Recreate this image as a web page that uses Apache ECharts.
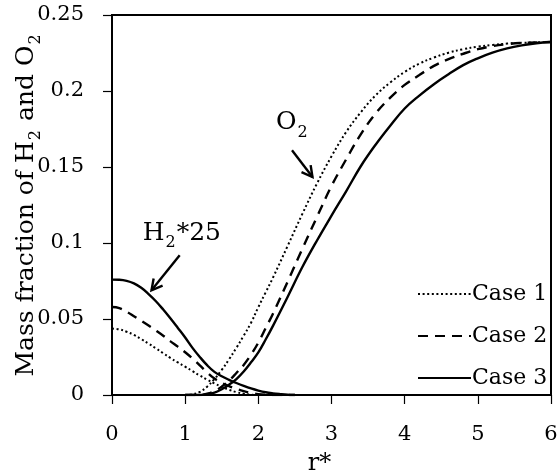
<!DOCTYPE html>
<html>
<head>
<meta charset="utf-8">
<script src="https://cdn.jsdelivr.net/npm/echarts@6/dist/echarts.min.js"></script>
<style>
html,body{margin:0;padding:0;background:#fff;}
#c{width:557px;height:475px;}
</style>
</head>
<body>
<div id="c"></div>
<script>
// ---- data ----
var caseNames = ['Case 1', 'Case 2', 'Case 3'];
var xTicks = [0, 1, 2, 3, 4, 5, 6];
var yTicks = [0, 0.05, 0.1, 0.15, 0.2, 0.25];

// H2*25 profiles
var rH2 = [0, 0.1, 0.2, 0.3, 0.4, 0.5, 0.6, 0.7, 0.8, 0.9, 1.0, 1.1, 1.2, 1.3, 1.4, 1.5, 1.6, 1.7, 1.8, 1.9, 2.0, 2.1, 2.2, 2.3, 2.4, 2.5];
var h2Case1 = [0.0437, 0.0432, 0.0416, 0.0395, 0.0368, 0.0338, 0.0307, 0.0275, 0.0243, 0.0214, 0.0186, 0.0157, 0.0128, 0.0101, 0.0076, 0.0054, 0.0034, 0.0019, 0.0008, 0.0002, 0, 0, 0, 0, 0, 0];
var h2Case2 = [0.0579, 0.0572, 0.0548, 0.0518, 0.0488, 0.0457, 0.0424, 0.0390, 0.0353, 0.0318, 0.0281, 0.0240, 0.0195, 0.0148, 0.0108, 0.0080, 0.0058, 0.0040, 0.0025, 0.0013, 0.0005, 0.0001, 0, 0, 0, 0];
var h2Case3 = [0.0759, 0.0758, 0.0751, 0.0734, 0.0705, 0.0664, 0.0617, 0.0562, 0.0503, 0.0441, 0.0378, 0.0310, 0.0250, 0.0196, 0.0152, 0.0123, 0.0100, 0.0079, 0.0060, 0.0043, 0.0029, 0.0018, 0.0011, 0.0006, 0.0002, 0];

// O2 profiles
var rO2 = [1.0, 1.1, 1.2, 1.3, 1.4, 1.5, 1.6, 1.7, 1.8, 1.9, 2.0, 2.1, 2.2, 2.4, 2.6, 2.8, 3.0, 3.2, 3.4, 3.6, 3.8, 4.0, 4.2, 4.4, 4.6, 4.8, 5.0, 5.2, 5.4, 5.6, 5.8, 6.0];
var o2Case1 = [0, 0.0005, 0.0020, 0.0055, 0.0105, 0.0165, 0.0235, 0.0310, 0.0390, 0.0475, 0.0578, 0.0675, 0.0772, 0.0980, 0.1190, 0.1390, 0.1570, 0.1730, 0.1860, 0.1970, 0.2055, 0.2125, 0.2180, 0.2220, 0.2252, 0.2275, 0.2292, 0.2303, 0.2312, 0.2317, 0.2320, 0.2322];
var o2Case2 = [0, 0, 0, 0.0008, 0.0025, 0.0055, 0.0095, 0.0145, 0.0198, 0.0265, 0.0345, 0.0440, 0.0535, 0.0745, 0.0960, 0.1170, 0.1375, 0.1550, 0.1715, 0.1850, 0.1955, 0.2040, 0.2105, 0.2165, 0.2210, 0.2245, 0.2275, 0.2295, 0.2308, 0.2316, 0.2320, 0.2322];
var o2Case3 = [0, 0, 0, 0.0005, 0.0015, 0.0038, 0.0068, 0.0105, 0.0155, 0.0215, 0.0280, 0.0365, 0.0455, 0.0645, 0.0840, 0.1015, 0.1180, 0.1340, 0.1505, 0.1645, 0.1770, 0.1885, 0.1970, 0.2045, 0.2110, 0.2170, 0.2215, 0.2252, 0.2280, 0.2300, 0.2314, 0.2322];

// annotation anchors (data coordinates)
var h2Label = {r: 0.42, v: 0.1044};
var h2Arrow = {from: [0.925, 0.0919], to: [0.54, 0.0689]};
var o2Label = {r: 2.24, v: 0.1774};
var o2Arrow = {from: [2.46, 0.161], to: [2.74, 0.1434]};

// ---- chart ----
function pairs(xs, ys) { return xs.map(function (x, i) { return [x, ys[i]]; }); }
var FONT = 'DejaVu Serif';
var styles = [
  {type: [2, 2.6], width: 2},
  {type: [10, 7], width: 2.4},
  {type: 'solid', width: 2.4}
];
var h2Sets = [h2Case1, h2Case2, h2Case3];
var o2Sets = [o2Case1, o2Case2, o2Case3];
var series = [];
function mk(name, data, st, z) {
  return {
    name: name, type: 'line', showSymbol: false, symbol: 'none', smooth: 0.4,
    data: data,
    lineStyle: {color: '#000', width: st.width, type: st.type, cap: 'butt'},
    itemStyle: {color: '#000', opacity: 0}, z: z
  };
}
for (var i = 0; i < 3; i++) series.push(mk(caseNames[i], pairs(rH2, h2Sets[i]), styles[i], 3 + i));
for (var j = 0; j < 3; j++) series.push(mk(caseNames[j], pairs(rO2, o2Sets[j]), styles[j], 3 + j));

var subRich = {
  n: {fontFamily: FONT, fontSize: 25, color: '#000', verticalAlign: 'bottom', padding: [0, 0, 5, 0]},
  s: {fontFamily: FONT, fontSize: 16, color: '#000', verticalAlign: 'bottom', padding: [0, 1, 0, 1]}
};

var chart = echarts.init(document.getElementById('c'), null, {renderer: 'canvas'});
chart.setOption({
  animation: false,
  backgroundColor: '#fff',
  textStyle: {fontFamily: FONT, color: '#000'},
  grid: {left: 112, right: 6, top: 15, bottom: 80, show: true, borderColor: '#000', borderWidth: 2, containLabel: false, outerBoundsMode: 'none'},
  legend: {
    data: caseNames, orient: 'vertical', left: 417, top: 283, padding: 0,
    itemWidth: 53, itemHeight: 20, itemGap: 20,
    itemStyle: {opacity: 0},
    textStyle: {fontFamily: FONT, fontSize: 22, color: '#000', padding: [0, 0, 0, -4]},
    selectedMode: false
  },
  xAxis: {
    type: 'value', min: xTicks[0], max: xTicks[xTicks.length - 1], interval: 1,
    name: 'r*', nameLocation: 'middle', nameGap: 57, nameMoveOverlap: false,
    nameTextStyle: {fontFamily: FONT, fontSize: 24, color: '#000', padding: [0, 24, 0, 0]},
    axisLine: {show: true, lineStyle: {color: '#000', width: 2}},
    axisTick: {show: true, inside: false, length: 9, lineStyle: {color: '#000', width: 1.2}},
    axisLabel: {fontFamily: FONT, fontSize: 21, color: '#000', margin: 29},
    splitLine: {show: false}
  },
  yAxis: {
    type: 'value', min: yTicks[0], max: yTicks[yTicks.length - 1], interval: 0.05,
    name: '{n|Mass fraction of H}{s|2}{n| and O}{s|2}', nameLocation: 'middle', nameGap: 68, nameMoveOverlap: false,
    nameTextStyle: {fontFamily: FONT, fontSize: 25, color: '#000', rich: subRich},
    axisLine: {show: true, lineStyle: {color: '#000', width: 2}},
    axisTick: {show: true, inside: false, length: 9, lineStyle: {color: '#000', width: 1.2}},
    axisLabel: {fontFamily: FONT, fontSize: 21, color: '#000', margin: 28},
    splitLine: {show: false}
  },
  series: series
});

function px(p) { return chart.convertToPixel({gridIndex: 0}, p); }
function arrow(a) {
  var s = px(a.from), t = px(a.to);
  var ang = Math.atan2(t[1] - s[1], t[0] - s[0]);
  var L = 12, w = 0.5;
  var h1 = [t[0] - L * Math.cos(ang - w), t[1] - L * Math.sin(ang - w)];
  var h2 = [t[0] - L * Math.cos(ang + w), t[1] - L * Math.sin(ang + w)];
  return [
    {type: 'polyline', shape: {points: [s, t]}, style: {stroke: '#000', lineWidth: 2.4, fill: null}, z: 10},
    {type: 'polyline', shape: {points: [h1, t, h2]}, style: {stroke: '#000', lineWidth: 2.4, fill: null}, z: 10}
  ];
}
var hp = px([h2Label.r, h2Label.v]);
var op = px([o2Label.r, o2Label.v]);
var g = [
  {type: 'text', x: hp[0], y: hp[1], style: {text: '{n|H}{s|2}{n|*25}', rich: subRich, align: 'left', verticalAlign: 'middle'}, z: 10},
  {type: 'text', x: op[0], y: op[1], style: {text: '{n|O}{s|2}', rich: subRich, align: 'left', verticalAlign: 'middle'}, z: 10}
].concat(arrow(h2Arrow)).concat(arrow(o2Arrow));
chart.setOption({graphic: g});
</script>
</body>
</html>
